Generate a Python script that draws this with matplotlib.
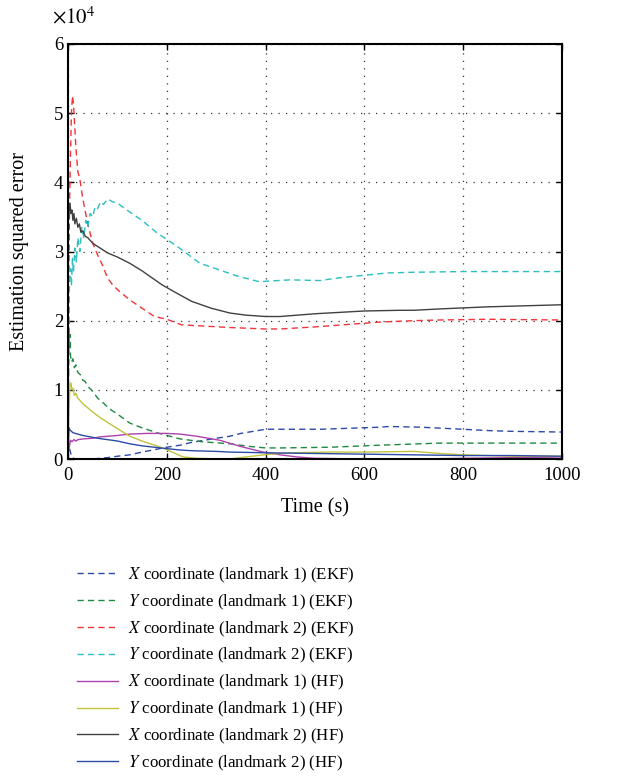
import matplotlib
matplotlib.use("Agg")
import matplotlib.pyplot as plt

plt.rcParams['font.family'] = ['Liberation Serif', 'DejaVu Serif']
plt.rcParams['mathtext.fontset'] = 'stix'

# time axis samples (s) and errors (x 1e4)
t_x1_ekf = [0, 3, 8, 15, 30, 50, 80, 100, 125, 150, 200, 227, 250, 300, 328, 350, 400, 430, 510, 632, 650, 713, 800, 854, 900, 1000]
x1_ekf = [0.30, 0.15, 0.02, 0.0, 0.0, 0.0, 0.02, 0.04, 0.06, 0.10, 0.17, 0.20, 0.24, 0.30, 0.33, 0.37, 0.43, 0.43, 0.43, 0.46, 0.47, 0.46, 0.43, 0.41, 0.40, 0.39]

t_y1_ekf = [0, 1, 2, 3, 4, 5, 7, 10, 13, 16, 20, 25, 30, 35, 40, 50, 60, 70, 85, 100, 125, 150, 180, 227, 270, 328, 370, 400, 430, 530, 632, 753, 850, 1000]
y1_ekf = [0.0, 1.2, 2.0, 1.6, 1.8, 1.5, 1.4, 1.45, 1.32, 1.36, 1.25, 1.22, 1.14, 1.12, 1.05, 0.98, 0.88, 0.82, 0.72, 0.65, 0.52, 0.45, 0.38, 0.29, 0.25, 0.22, 0.18, 0.16, 0.16, 0.17, 0.20, 0.23, 0.23, 0.23]

t_x2_ekf = [0, 1, 2, 3, 5, 7, 9, 11, 13, 16, 20, 24, 28, 33, 40, 50, 60, 70, 80, 90, 100, 115, 125, 150, 175, 200, 230, 280, 330, 400, 430, 500, 632, 700, 753, 850, 1000]
x2_ekf = [0.0, 2.0, 2.8, 3.6, 4.4, 5.0, 5.25, 5.15, 4.9, 4.5, 4.15, 4.05, 3.85, 3.65, 3.4, 3.12, 2.95, 2.8, 2.62, 2.52, 2.45, 2.36, 2.30, 2.18, 2.06, 2.02, 1.94, 1.92, 1.90, 1.88, 1.88, 1.91, 1.98, 2.00, 2.01, 2.02, 2.01]

t_y2_ekf = [0, 1, 2, 3, 5, 7, 9, 11, 14, 17, 20, 24, 28, 32, 36, 40, 45, 50, 55, 60, 66, 72, 80, 90, 100, 125, 150, 180, 220, 267, 300, 340, 389, 400, 450, 510, 550, 646, 700, 800, 854, 1000]
y2_ekf = [0.0, 0.9, 1.8, 2.6, 2.75, 2.5, 2.9, 2.7, 3.05, 2.85, 3.2, 3.0, 3.35, 3.2, 3.45, 3.35, 3.55, 3.5, 3.65, 3.62, 3.72, 3.68, 3.76, 3.72, 3.70, 3.57, 3.45, 3.27, 3.08, 2.83, 2.75, 2.65, 2.56, 2.57, 2.59, 2.58, 2.62, 2.69, 2.70, 2.71, 2.71, 2.71]

t_x1_hf = [0, 2, 5, 8, 12, 16, 20, 30, 50, 65, 100, 125, 160, 200, 227, 260, 308, 350, 395, 430, 463, 500, 600, 700, 800, 900, 1000]
x1_hf = [0.05, 0.15, 0.27, 0.25, 0.28, 0.26, 0.28, 0.29, 0.30, 0.32, 0.34, 0.36, 0.37, 0.37, 0.36, 0.33, 0.27, 0.18, 0.10, 0.06, 0.03, 0.01, 0.0, 0.0, 0.01, 0.02, 0.03]

t_y1_hf = [0, 2, 4, 6, 8, 10, 13, 16, 20, 25, 30, 40, 50, 65, 80, 100, 125, 150, 192, 233, 260, 300, 328, 360, 409, 450, 530, 600, 700, 753, 800, 900, 1000]
y1_hf = [0.0, 0.7, 1.05, 1.1, 1.0, 1.02, 0.92, 0.95, 0.88, 0.84, 0.80, 0.74, 0.68, 0.60, 0.53, 0.44, 0.33, 0.26, 0.16, 0.03, 0.01, 0.0, 0.0, 0.03, 0.07, 0.09, 0.10, 0.10, 0.11, 0.08, 0.06, 0.04, 0.04]

t_x2_hf = [0, 2, 4, 6, 8, 10, 12, 14, 17, 20, 23, 26, 30, 35, 40, 50, 65, 80, 100, 125, 150, 190, 217, 250, 290, 328, 360, 400, 429, 500, 600, 672, 700, 753, 850, 1000]
x2_hf = [3.4, 3.55, 3.7, 3.55, 3.6, 3.45, 3.55, 3.4, 3.48, 3.35, 3.4, 3.28, 3.3, 3.22, 3.2, 3.12, 3.05, 2.98, 2.92, 2.83, 2.72, 2.52, 2.41, 2.28, 2.18, 2.11, 2.08, 2.06, 2.06, 2.10, 2.14, 2.15, 2.15, 2.17, 2.20, 2.23]

t_y2_hf = [0, 2, 4, 10, 20, 30, 45, 60, 80, 100, 125, 150, 200, 227, 250, 300, 328, 400, 500, 600, 700, 800, 900, 1000]
y2_hf = [0.0, 0.45, 0.42, 0.38, 0.36, 0.34, 0.32, 0.30, 0.28, 0.26, 0.22, 0.19, 0.15, 0.13, 0.12, 0.11, 0.10, 0.09, 0.08, 0.07, 0.06, 0.05, 0.05, 0.04]

labels = ["$X$ coordinate (landmark 1) (EKF)",
          "$Y$ coordinate (landmark 1) (EKF)",
          "$X$ coordinate (landmark 2) (EKF)",
          "$Y$ coordinate (landmark 2) (EKF)",
          "$X$ coordinate (landmark 1) (HF)",
          "$Y$ coordinate (landmark 1) (HF)",
          "$X$ coordinate (landmark 2) (HF)",
          "$Y$ coordinate (landmark 2) (HF)"]

series = [(t_x1_ekf, x1_ekf), (t_y1_ekf, y1_ekf), (t_x2_ekf, x2_ekf), (t_y2_ekf, y2_ekf),
          (t_x1_hf, x1_hf), (t_y1_hf, y1_hf), (t_x2_hf, x2_hf), (t_y2_hf, y2_hf)]
colors = ['#2b4ba8', '#1e8a40', '#f0343a', '#2cbfbf', '#b040b0', '#c2c23c', '#404040', '#2b4ba8']
styles = [(0, (4.5, 3))] * 4 + ['-'] * 4

fig = plt.figure(figsize=(6.22, 7.76), dpi=100)
ax = fig.add_axes([0.1093, 0.4085, 0.7942, 0.5348])

handles = []
for (t, v), c, ls, lab in zip(series, colors, styles, labels):
    h, = ax.plot(t, [y * 1e4 for y in v], color=c, linestyle=ls, linewidth=1.0, label=lab)
    handles.append(h)

ax.set_xlim(0, 1000)
ax.set_ylim(0, 6e4)
ax.set_xticks([0, 200, 400, 600, 800, 1000])
ax.set_yticks([0, 1e4, 2e4, 3e4, 4e4, 5e4, 6e4])
ax.set_yticklabels(['0', '1', '2', '3', '4', '5', '6'])
ax.tick_params(direction='in', top=True, right=True, labelsize=13.5, length=4, width=1)
ax.tick_params(axis='x', pad=6)
ax.grid(True, linestyle=(0, (1, 5)), color='#333333', linewidth=0.9)
for s in ax.spines.values():
    s.set_linewidth(1.5)

ax.set_xlabel("Time (s)", fontsize=14.5, labelpad=10)
ax.set_ylabel("Estimation squared error", fontsize=14.5, labelpad=18)
fig.text(0.083, 0.977, r"$\times 10^4$", fontsize=15, ha='left', va='center')

fig.legend(handles=handles, loc='upper left', bbox_to_anchor=(0.11, 0.282),
           frameon=False, fontsize=12.2, handlelength=2.4, handletextpad=0.6,
           labelspacing=0.45, borderpad=0)

fig.savefig("out.png", dpi=100)
